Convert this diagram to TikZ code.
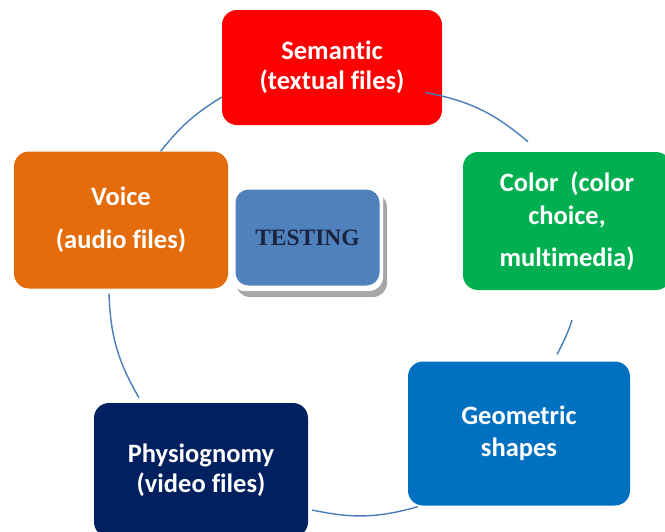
\documentclass[tikz,border=0pt]{standalone}
\usepackage{fontspec}
\setmainfont[Ligatures=CommonOff]{Carlito}
\newfontfamily\serifbold{Liberation Serif}
\usetikzlibrary{calc}
\definecolor{semred}{HTML}{FF0000}
\definecolor{colgreen}{HTML}{00B050}
\definecolor{geoblue}{HTML}{0070C0}
\definecolor{physnavy}{HTML}{002060}
\definecolor{voiceorange}{HTML}{E46C0A}
\definecolor{testblue}{HTML}{4F81BD}
\definecolor{testtext}{HTML}{1A2440}
\definecolor{linkblue}{HTML}{4A7EBB}
\tikzset{
  topic/.style={rectangle, rounded corners=15pt, inner sep=0pt, text=white,
    align=center, font=\fontsize{26.5}{30}\selectfont\bfseries},
  link/.style={draw=linkblue, line width=1.4pt},
}
\begin{document}
\begin{tikzpicture}[x=1pt,y=1pt]
\useasboundingbox (0,0) rectangle (665,-531);
\node[topic, fill=semred, minimum width=220pt, minimum height=115pt] (sem) at (332,-67.5) {Semantic\\(textual files)};
\node[topic, fill=colgreen, minimum width=208pt, minimum height=138pt] (col) at (567,-221) {Color\ \ (color\\[3pt]choice,\\[12pt]multimedia)};
\node[topic, fill=geoblue, minimum width=222pt, minimum height=144pt] (geo) at (519,-433.5) {Geometric\\[2pt]shapes};
\node[topic, fill=physnavy, minimum width=214pt, minimum height=134pt] (phys) at (201,-470) {Physiognomy\\(video files)};
\node[topic, fill=voiceorange, minimum width=214pt, minimum height=137pt] (voice) at (121,-220) {Voice\\[13pt](audio files)};
% testing box with frame and shadow
\fill[gray!70, rounded corners=14pt] (236,-193) rectangle (387,-297);
\fill[white, rounded corners=14pt] (231,-185) rectangle (383,-291);
\node[rectangle, rounded corners=13pt, fill=testblue, minimum width=144pt, minimum height=96pt,
  text=testtext, font=\fontsize{23.5}{26}\selectfont\serifbold\bfseries] (test) at (307.5,-237.5) {\raisebox{-2pt}{TESTING}};
% connectors
\draw[link] (voice.60) to[bend left=10] (sem.195);
\draw[link] ($(sem.east)+(-17,-25)$) to[bend left=15] ($(col.north)+(-39,10)$);
\draw[link] ($(col.south)+(5,-30)$) to[bend left=5] ($(geo.north)+(38,7)$);
\draw[link] ($(geo.south west)+(10,-1)$) to[bend left=14] ($(phys.east)+(4,-40)$);
\draw[link] ($(phys.north)+(-62,5)$) to[bend left=14] ($(voice.south)+(-12,-5)$);
\end{tikzpicture}
\end{document}
